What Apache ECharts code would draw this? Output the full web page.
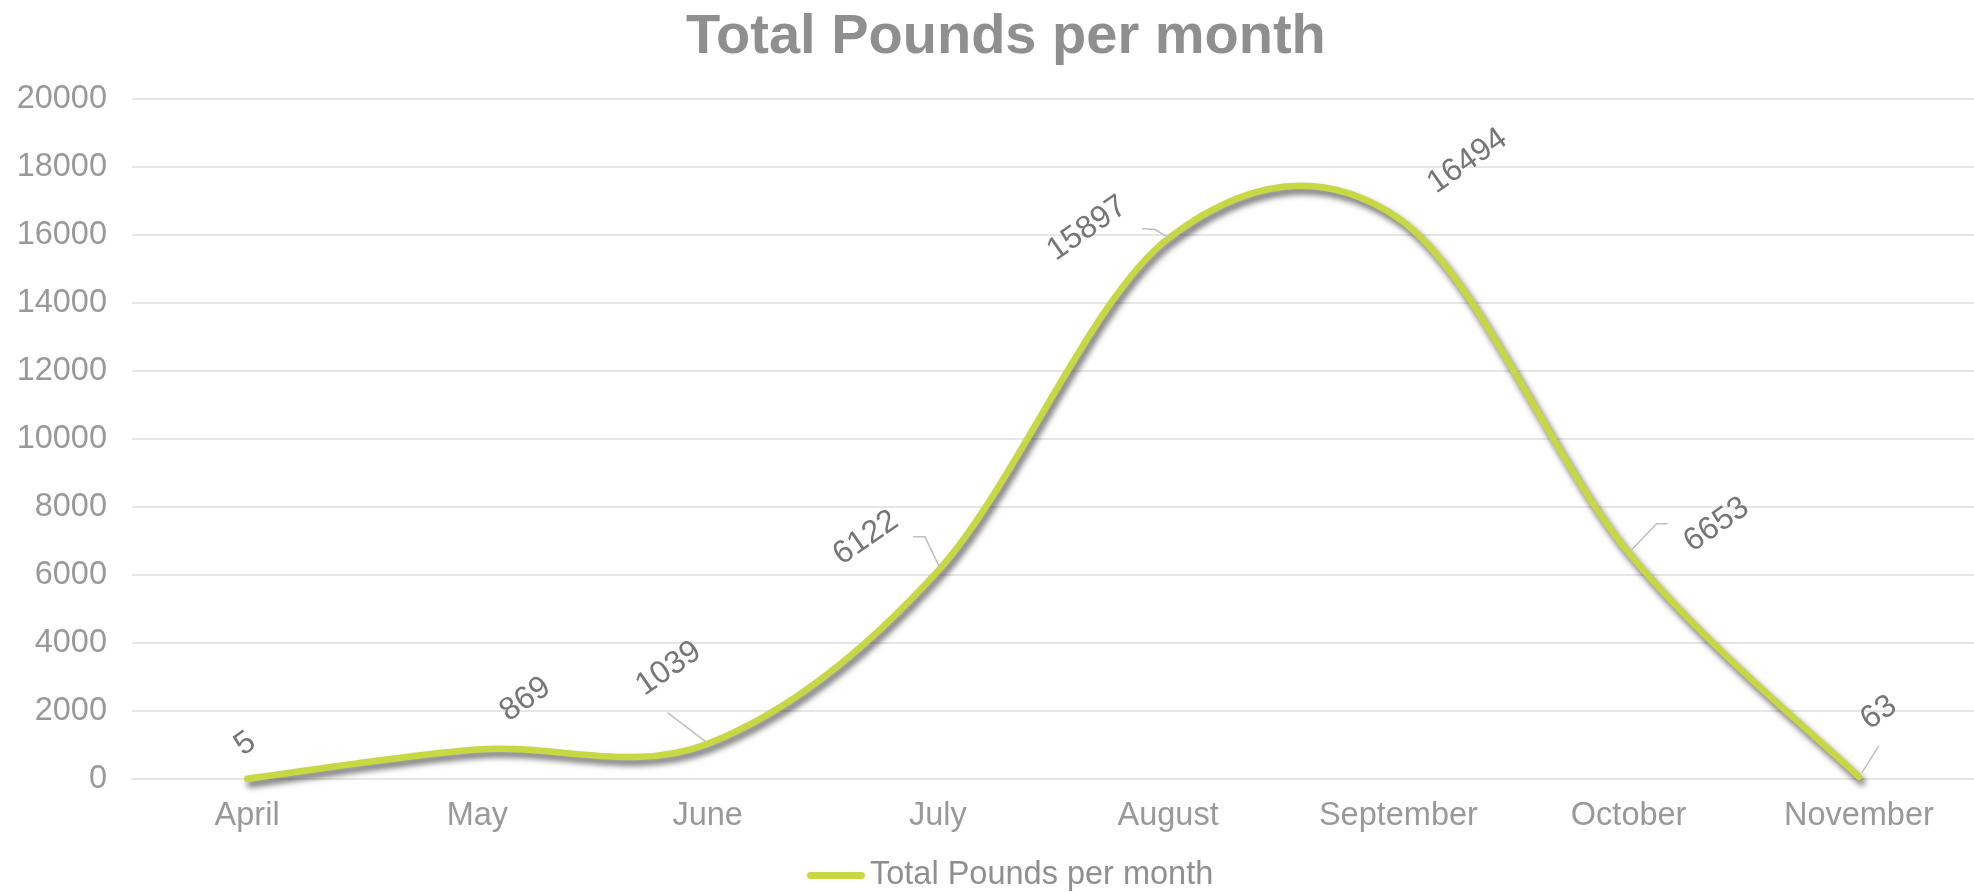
<!DOCTYPE html>
<html>
<head>
<meta charset="utf-8">
<script src="https://cdn.jsdelivr.net/npm/echarts@6/dist/echarts.min.js"></script>
<style>
  html, body { margin: 0; padding: 0; background: #fff; }
  #chart { width: 1974px; height: 892px; }
</style>
</head>
<body>
<div id="chart"></div>
<script>
// ---- data ----
const categories = ['April', 'May', 'June', 'July', 'August', 'September', 'October', 'November'];
const pounds = [5, 869, 1039, 6122, 15897, 16494, 6653, 63];
const seriesName = 'Total Pounds per month';
const titleText = 'Total Pounds per month';
const yMin = 0, yMax = 20000, yInterval = 2000;

// ---- label placement (style, relative to each point in px) ----
const labelOffsets = [[-2, -35], [48, -50], [-39, -75], [-72, -33], [-81, -10], [69, -57], [88, -28], [20, -64]];
const leaders = [
  null,
  null,
  [[-40, -31], [-2, -2]],
  [[-25, -34], [-13, -34], [2, -3]],
  [[-26, -10], [-13, -9], [0, -1]],
  null,
  [[39, -29], [28, -29], [3, -3]],
  [[20, -31], [3, -4]]
];

const FONT = "'Liberation Sans', Arial, Helvetica, sans-serif";
const LINE_COLOR = '#C8D842';

const chart = echarts.init(document.getElementById('chart'), null, { renderer: 'canvas' });

function renderItem(params, api) {
  const i = params.dataIndex;
  const n = pounds.length;
  const pts = pounds.map((v, k) => api.coord([k, v]));
  const children = [];
  if (i === 0) {
    // Catmull-Rom style smoothing (as spreadsheet smoothed lines)
    let d = 'M' + pts[0][0] + ' ' + pts[0][1];
    for (let k = 0; k < n - 1; k++) {
      const p0 = pts[Math.max(k - 1, 0)], p1 = pts[k], p2 = pts[k + 1], p3 = pts[Math.min(k + 2, n - 1)];
      const c1x = p1[0] + (p2[0] - p0[0]) / 6, c1y = p1[1] + (p2[1] - p0[1]) / 6;
      const c2x = p2[0] - (p3[0] - p1[0]) / 6, c2y = p2[1] - (p3[1] - p1[1]) / 6;
      d += ' C' + c1x + ' ' + c1y + ' ' + c2x + ' ' + c2y + ' ' + p2[0] + ' ' + p2[1];
    }
    children.push({
      type: 'path',
      shape: { pathData: d },
      style: {
        stroke: LINE_COLOR, fill: 'none', lineWidth: 6.5, lineCap: 'round', lineJoin: 'round',
        shadowBlur: 6, shadowColor: 'rgba(0,0,0,0.6)', shadowOffsetX: 3, shadowOffsetY: 5
      },
      z2: 1
    });
  }
  const p = pts[i];
  const ld = leaders[i];
  if (ld) {
    children.push({
      type: 'polyline',
      shape: { points: ld.map(q => [p[0] + q[0], p[1] + q[1]]) },
      style: { stroke: '#bfbfbf', lineWidth: 1.5, fill: null },
      z2: 2
    });
  }
  const off = labelOffsets[i];
  children.push({
    type: 'text',
    x: p[0] + off[0],
    y: p[1] + off[1],
    rotation: 35 * Math.PI / 180,
    style: {
      text: String(pounds[i]),
      fill: '#767676',
      fontSize: 32,
      fontFamily: FONT,
      align: 'center',
      verticalAlign: 'middle'
    },
    z2: 3
  });
  return { type: 'group', children: children };
}

const option = {
  animation: false,
  backgroundColor: '#ffffff',
  title: {
    text: titleText,
    left: 681,
    top: 5,
    textStyle: { fontSize: 56, fontWeight: 'bold', color: '#8f8f8f', fontFamily: FONT }
  },
  legend: {
    left: 802,
    top: 854,
    itemWidth: 58,
    itemHeight: 7,
    data: [{ name: seriesName, icon: 'path://M3.5,0H54.5A3.5,3.5,0,0,1,54.5,7H3.5A3.5,3.5,0,0,1,3.5,0Z' }],
    textStyle: { fontSize: 32.5, color: '#8f8f8f', fontFamily: FONT }
  },
  grid: { left: 132, right: 0, top: 99, bottom: 113, containLabel: false },
  xAxis: {
    type: 'category',
    data: categories,
    boundaryGap: true,
    axisLine: { show: true, lineStyle: { color: '#e6e6e6', width: 2 } },
    axisTick: { show: false },
    axisLabel: { fontSize: 32.5, color: '#999999', fontFamily: FONT, margin: 21 },
    splitLine: { show: false }
  },
  yAxis: {
    type: 'value',
    min: yMin,
    max: yMax,
    interval: yInterval,
    axisLine: { show: false },
    axisTick: { show: false },
    axisLabel: { fontSize: 32.5, color: '#999999', fontFamily: FONT, margin: 25, formatter: v => String(v) },
    splitLine: { lineStyle: { color: '#e6e6e6', width: 2 } }
  },
  series: [{
    name: seriesName,
    type: 'custom',
    renderItem: renderItem,
    itemStyle: { color: LINE_COLOR },
    encode: { x: 0, y: 1 },
    data: pounds.map((v, k) => [k, v]),
    clip: false
  }]
};
chart.setOption(option);
</script>
</body>
</html>
